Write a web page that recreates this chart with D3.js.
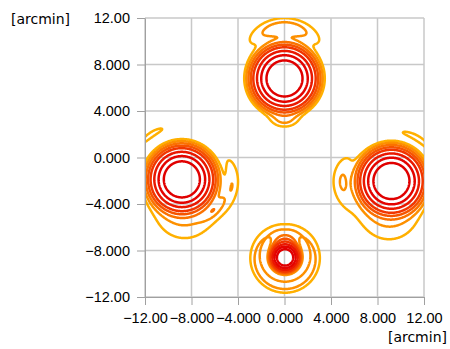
<!DOCTYPE html>
<html><head><meta charset="utf-8">
<script src="https://cdn.jsdelivr.net/npm/d3@7"></script>
<style>
body{margin:0;background:#fff}
text{fill:#000}
.tick text{font-family:"Liberation Sans",Arial,sans-serif;font-size:14.5px}
.unit{font-family:"DejaVu Sans",sans-serif;font-size:14px}
</style>
</head><body>
<svg id="chart" width="450" height="349"></svg>
<script>
// Axis ticks
const xTicks = [-12, -8, -4, 0, 4, 8, 12];
const xTickLabels = ["\u221212.00", "\u22128.000", "\u22124.000", "0.000", "4.000", "8.000", "12.00"];
const yTicks = [-12, -8, -4, 0, 4, 8, 12];
const yTickLabels = ["\u221212.00", "\u22128.000", "\u22124.000", "0.000", "4.000", "8.000", "12.00"];
const axisUnit = "[arcmin]";

// Contour levels (dB below beam peak), outermost first
const levelsDb = [-30, -27, -24, -21, -18, -14, -10, -6];
const levelColors = ["#ffb000", "#fd9000", "#fb7200", "#f65400", "#f13600", "#ea1800", "#e40400", "#e00000"];

// Main beams: centre [arcmin], -10 dB radius [arcmin], peak [dB]
const beamX = [0.0, -8.83, 9.2, 0.05];
const beamY = [6.8, -1.88, -2.02, -8.6];
const beamW10 = [2.0, 2.0, 2.0, 0.9];
const beamPeakDb = [0, 0, 0, 0];

// Broad shoulders: below the two side beams, above the lower beam
const shoulderX = [-8.6, 9.0, 0.05];
const shoulderY = [-4.4, -4.5, -7.7];
const shoulderW10 = [4.0, 4.0, 1.2];
const shoulderPeakDb = [-26, -26, -18];

// Sidelobe arcs around the beams
const arcBeam = [0, 0, 1, 1, 1, 2, 2, 3];
const arcDir = [90, -90, 125, -6, -44, 57, 180, -90];           // deg
const arcRadius = [4.3, 3.6, 4.65, 4.35, 3.8, 4.3, 4.25, 2.4];  // arcmin
const arcRadialW10 = [1.3, 0.95, 0.52, 0.9, 0.54, 0.52, 1.3, 1.0];
const arcSpread = [62, 30, 35, 52, 26, 49, 48, 400];          // deg
const arcPeakDb = [-25.3, -27, -28.5, -27.3, -26, -28.5, -27, -26];

const W = 450, H = 349;
const margin = {left: 145, top: 18, right: 26, bottom: 52};
const x = d3.scaleLinear().domain([-12, 12]).range([margin.left, W - margin.right]);
const y = d3.scaleLinear().domain([-12, 12]).range([H - margin.bottom, margin.top]);

const svg = d3.select("#chart");

// grid
const grid = svg.append("g").attr("stroke", "#c8c8c8").attr("stroke-width", 1.5);
grid.selectAll("line.v").data(xTicks).join("line")
  .attr("x1", d => x(d)).attr("x2", d => x(d))
  .attr("y1", y(12)).attr("y2", y(-12));
grid.selectAll("line.h").data(yTicks).join("line")
  .attr("y1", d => y(d)).attr("y2", d => y(d))
  .attr("x1", x(-12)).attr("x2", x(12));

// field sampled on a regular grid (dB)
const step = 0.05, g0 = -13, n = Math.round(26 / step) + 1;
const values = new Float64Array(n * n);
const rad = Math.PI / 180;
for (let j = 0; j < n; j++) {
  const py = g0 + j * step;
  for (let i = 0; i < n; i++) {
    const px = g0 + i * step;
    let p = 0;
    for (let b = 0; b < beamX.length; b++) {
      const dx = px - beamX[b], dy = py - beamY[b];
      p += Math.pow(10, beamPeakDb[b] / 10 - (dx * dx + dy * dy) / (beamW10[b] * beamW10[b]));
    }
    for (let s = 0; s < shoulderX.length; s++) {
      const dx = px - shoulderX[s], dy = py - shoulderY[s];
      p += Math.pow(10, shoulderPeakDb[s] / 10 - (dx * dx + dy * dy) / (shoulderW10[s] * shoulderW10[s]));
    }
    for (let a = 0; a < arcBeam.length; a++) {
      const b = arcBeam[a];
      const dx = px - beamX[b], dy = py - beamY[b];
      const r = Math.hypot(dx, dy);
      let dth = Math.atan2(dy, dx) / rad - arcDir[a];
      dth = ((dth % 360) + 540) % 360 - 180;
      const dr = (r - arcRadius[a]) / arcRadialW10[a];
      const da = dth / arcSpread[a];
      p += Math.pow(10, arcPeakDb[a] / 10 - dr * dr - da * da);
    }
    values[j * n + i] = 10 * Math.log10(p);
  }
}

const contours = d3.contours().size([n, n]).thresholds(levelsDb)(values);
const toPlot = d3.geoTransform({
  point(gx, gy) { this.stream.point(x(g0 + (gx - 0.5) * step), y(g0 + (gy - 0.5) * step)); }
});
const path = d3.geoPath(toPlot);

svg.append("clipPath").attr("id", "plotClip").append("rect")
  .attr("x", x(-12)).attr("y", y(12))
  .attr("width", x(12) - x(-12)).attr("height", y(-12) - y(12));

const color = d3.scaleOrdinal().domain(levelsDb).range(levelColors);
svg.append("g").attr("clip-path", "url(#plotClip)")
  .selectAll("path").data(contours).join("path")
  .attr("d", path)
  .attr("fill", "none")
  .attr("stroke", d => color(d.value))
  .attr("stroke-width", 2.5)
  .attr("stroke-linejoin", "round");

// axes
const axisColor = "#a0a0a0";
const yAxis = svg.append("g").attr("transform", `translate(${x(-12)},0)`)
  .call(d3.axisLeft(y).tickValues(yTicks).tickFormat((d, i) => yTickLabels[i]).tickSize(8).tickPadding(7).tickSizeOuter(0));
const xAxis = svg.append("g").attr("transform", `translate(0,${y(-12)})`)
  .call(d3.axisBottom(x).tickValues(xTicks).tickFormat((d, i) => xTickLabels[i]).tickSize(8).tickPadding(8).tickSizeOuter(0));
[yAxis, xAxis].forEach(a => {
  a.select(".domain").attr("stroke", axisColor);
  a.selectAll(".tick line").attr("stroke", axisColor);
});

svg.append("text").attr("class", "unit").attr("x", 11).attr("y", 24).text(axisUnit);
svg.append("text").attr("class", "unit").attr("x", 447).attr("y", 342).attr("text-anchor", "end").text(axisUnit);
</script>
</body></html>
